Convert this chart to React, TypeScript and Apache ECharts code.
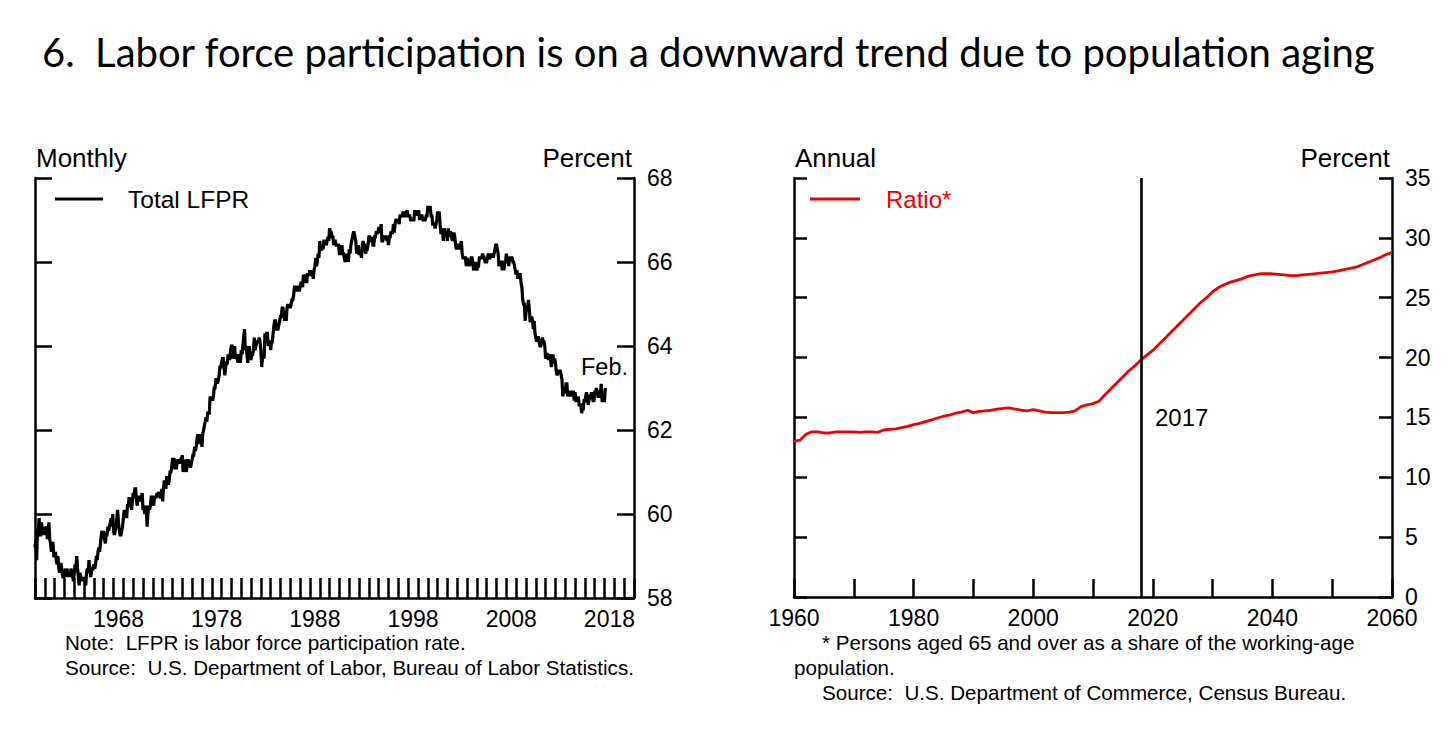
import React, { useEffect, useRef } from 'react';
import * as echarts from 'echarts';

// ---------- Left panel: Total LFPR, monthly, Jan 1960 - Feb 2018 ----------
const lfprStartYear = 1960;
const lfprMonthly: number[] = [
  // 1960
  59.2, 59.4, 58.9, 59.6, 59.6, 59.9, 59.5, 59.5, 59.8, 59.5, 59.7, 59.5,
  // 1961
  59.7, 59.6, 59.7, 59.4, 59.6, 59.8, 59.4, 59.3, 59.1, 59.3, 59.3, 59.0,
  // 1962
  59.0, 59.1, 58.9, 58.8, 59.0, 58.7, 58.6, 58.8, 58.8, 58.6, 58.5, 58.5,
  // 1963
  58.6, 58.7, 58.5, 58.7, 58.6, 58.5, 58.6, 58.5, 58.7, 58.6, 58.5, 58.4,
  // 1964
  58.6, 58.8, 58.7, 59.0, 58.7, 58.5, 58.3, 58.6, 58.5, 58.4, 58.5, 58.4,
  // 1965
  58.5, 58.4, 58.3, 58.6, 58.7, 58.6, 58.9, 58.7, 58.5, 58.6, 58.7, 58.7,
  // 1966
  58.8, 58.7, 58.8, 59.0, 58.9, 59.1, 59.2, 59.1, 59.3, 59.5, 59.6, 59.4,
  // 1967
  59.6, 59.4, 59.3, 59.5, 59.5, 59.7, 59.6, 59.7, 59.8, 59.9, 59.7, 60.0,
  // 1968
  59.6, 59.5, 59.6, 59.7, 59.9, 60.1, 59.8, 59.6, 59.5, 59.5, 59.6, 59.7,
  // 1969
  59.9, 60.1, 59.9, 60.1, 59.9, 60.2, 60.2, 60.4, 60.3, 60.3, 60.1, 60.3,
  // 1970
  60.5, 60.4, 60.6, 60.6, 60.3, 60.2, 60.4, 60.4, 60.3, 60.4, 60.4, 60.5,
  // 1971
  60.1, 60.2, 60.0, 60.2, 60.1, 59.7, 60.0, 60.2, 60.1, 60.2, 60.4, 60.4,
  // 1972
  60.3, 60.2, 60.4, 60.4, 60.4, 60.5, 60.4, 60.5, 60.5, 60.4, 60.4, 60.6,
  // 1973
  60.3, 60.6, 60.8, 60.7, 60.6, 60.9, 60.8, 60.7, 60.8, 61.0, 61.0, 61.1,
  // 1974
  61.3, 61.3, 61.3, 61.1, 61.1, 61.1, 61.3, 61.2, 61.3, 61.2, 61.3, 61.3,
  // 1975
  61.4, 61.0, 61.2, 61.2, 61.3, 61.0, 61.2, 61.3, 61.2, 61.2, 61.1, 61.2,
  // 1976
  61.3, 61.4, 61.4, 61.6, 61.5, 61.6, 61.8, 61.9, 61.7, 61.7, 61.9, 61.8,
  // 1977
  61.6, 61.9, 62.0, 62.1, 62.2, 62.3, 62.2, 62.4, 62.4, 62.4, 62.8, 62.7,
  // 1978
  62.8, 62.7, 62.8, 63.0, 63.0, 63.2, 63.2, 63.1, 63.2, 63.3, 63.5, 63.5,
  // 1979
  63.6, 63.7, 63.7, 63.5, 63.3, 63.5, 63.6, 63.6, 63.8, 63.7, 63.7, 63.9,
  // 1980
  64.0, 64.0, 63.7, 63.8, 64.0, 63.7, 63.8, 63.7, 63.6, 63.7, 63.8, 63.6,
  // 1981
  63.9, 63.8, 64.0, 64.2, 64.4, 63.9, 64.0, 63.8, 63.6, 63.9, 64.0, 63.7,
  // 1982
  63.7, 63.8, 63.8, 63.9, 64.2, 63.9, 64.0, 64.1, 64.1, 64.1, 64.2, 64.1,
  // 1983
  63.9, 63.5, 63.7, 63.8, 63.7, 64.3, 64.1, 64.3, 64.3, 64.0, 64.1, 64.1,
  // 1984
  63.9, 64.1, 64.1, 64.3, 64.5, 64.6, 64.6, 64.4, 64.4, 64.4, 64.5, 64.6,
  // 1985
  64.7, 64.7, 64.9, 64.9, 64.8, 64.6, 64.7, 64.6, 64.9, 65.0, 64.9, 65.0,
  // 1986
  64.9, 65.0, 65.1, 65.1, 65.2, 65.4, 65.4, 65.3, 65.4, 65.4, 65.4, 65.3,
  // 1987
  65.4, 65.5, 65.5, 65.4, 65.7, 65.5, 65.6, 65.7, 65.5, 65.7, 65.7, 65.7,
  // 1988
  65.8, 65.7, 65.7, 65.8, 65.6, 65.8, 65.9, 66.1, 65.9, 66.0, 66.2, 66.1,
  // 1989
  66.5, 66.3, 66.3, 66.4, 66.3, 66.5, 66.5, 66.5, 66.4, 66.5, 66.6, 66.5,
  // 1990
  66.8, 66.7, 66.7, 66.6, 66.6, 66.4, 66.5, 66.5, 66.4, 66.4, 66.4, 66.4,
  // 1991
  66.2, 66.2, 66.3, 66.4, 66.2, 66.2, 66.1, 66.0, 66.2, 66.1, 66.1, 66.0,
  // 1992
  66.3, 66.2, 66.4, 66.5, 66.6, 66.7, 66.7, 66.6, 66.5, 66.2, 66.3, 66.4,
  // 1993
  66.2, 66.2, 66.2, 66.1, 66.4, 66.5, 66.4, 66.4, 66.2, 66.3, 66.3, 66.4,
  // 1994
  66.6, 66.6, 66.5, 66.5, 66.6, 66.4, 66.4, 66.6, 66.6, 66.7, 66.7, 66.7,
  // 1995
  66.8, 66.8, 66.7, 66.9, 66.5, 66.5, 66.6, 66.6, 66.6, 66.6, 66.5, 66.6,
  // 1996
  66.4, 66.6, 66.6, 66.7, 66.7, 66.7, 66.9, 66.7, 66.9, 67.0, 67.0, 67.0,
  // 1997
  67.0, 66.9, 67.1, 67.1, 67.1, 67.1, 67.2, 67.1, 67.1, 67.1, 67.2, 67.2,
  // 1998
  67.1, 67.1, 67.1, 67.0, 67.0, 67.0, 67.0, 67.0, 67.2, 67.2, 67.1, 67.2,
  // 1999
  67.2, 67.2, 67.0, 67.1, 67.1, 67.1, 67.0, 67.0, 67.0, 67.0, 67.1, 67.1,
  // 2000
  67.3, 67.3, 67.3, 67.3, 67.1, 67.1, 66.9, 66.9, 66.9, 66.8, 66.9, 67.0,
  // 2001
  67.2, 67.1, 67.2, 66.9, 66.7, 66.7, 66.8, 66.5, 66.8, 66.7, 66.7, 66.7,
  // 2002
  66.5, 66.8, 66.6, 66.7, 66.7, 66.6, 66.5, 66.6, 66.7, 66.6, 66.4, 66.3,
  // 2003
  66.4, 66.4, 66.3, 66.4, 66.4, 66.5, 66.2, 66.1, 66.1, 66.1, 66.1, 65.9,
  // 2004
  66.1, 66.0, 66.0, 65.9, 66.0, 66.1, 66.1, 66.0, 65.8, 65.9, 66.0, 65.9,
  // 2005
  65.8, 65.9, 65.9, 66.1, 66.1, 66.1, 66.1, 66.2, 66.1, 66.1, 66.0, 66.0,
  // 2006
  66.0, 66.1, 66.2, 66.1, 66.1, 66.2, 66.1, 66.2, 66.1, 66.2, 66.3, 66.4,
  // 2007
  66.4, 66.3, 66.2, 65.9, 66.0, 66.0, 66.0, 65.8, 66.0, 65.8, 66.0, 66.0,
  // 2008
  66.2, 66.0, 66.1, 65.9, 66.1, 66.1, 66.1, 66.1, 66.0, 66.0, 65.9, 65.8,
  // 2009
  65.7, 65.8, 65.6, 65.7, 65.7, 65.7, 65.5, 65.4, 65.1, 65.0, 65.0, 64.6,
  // 2010
  64.8, 64.9, 64.9, 65.1, 64.9, 64.6, 64.6, 64.7, 64.6, 64.4, 64.6, 64.3,
  // 2011
  64.2, 64.1, 64.2, 64.2, 64.1, 64.0, 64.0, 64.1, 64.2, 64.1, 64.1, 64.0,
  // 2012
  63.7, 63.8, 63.8, 63.7, 63.7, 63.8, 63.7, 63.5, 63.6, 63.8, 63.6, 63.7,
  // 2013
  63.6, 63.4, 63.3, 63.4, 63.4, 63.4, 63.4, 63.3, 63.2, 62.8, 63.0, 62.9,
  // 2014
  62.9, 63.1, 63.1, 62.8, 62.9, 62.8, 62.9, 62.9, 62.8, 62.9, 62.9, 62.7,
  // 2015
  62.9, 62.7, 62.7, 62.7, 62.8, 62.6, 62.6, 62.6, 62.4, 62.5, 62.5, 62.7,
  // 2016
  62.7, 62.8, 62.9, 62.8, 62.6, 62.7, 62.8, 62.8, 62.9, 62.8, 62.7, 62.7,
  // 2017
  62.9, 62.9, 63.0, 62.9, 62.8, 62.8, 62.9, 62.9, 63.1, 62.7, 62.7, 62.7,
  // 2018
  62.7, 63.0,
];
const leftAxisFirstYear = 1960;
const leftAxisLastYear = 2020; // last yearly band (ends at 2021)
const leftLabelYears = ['1968', '1978', '1988', '1998', '2008', '2018'];
const leftYMin = 58;
const leftYMax = 68;
const leftYStep = 2;

// ---------- Right panel: old-age ratio, annual 1960 - 2060 ----------
const ratioYears: number[] = [
  1960, 1961, 1962, 1963, 1964, 1965, 1966, 1967, 1968, 1969,
  1970, 1971, 1972, 1973, 1974, 1975, 1976, 1977, 1978, 1979,
  1980, 1981, 1982, 1983, 1984, 1985, 1986, 1987, 1988, 1989,
  1990, 1991, 1992, 1993, 1994, 1995, 1996, 1997, 1998, 1999,
  2000, 2001, 2002, 2003, 2004, 2005, 2006, 2007, 2008, 2009,
  2010, 2011, 2012, 2013, 2014, 2015, 2016, 2017, 2018, 2019,
  2020, 2021, 2022, 2023, 2024, 2025, 2026, 2027, 2028, 2029,
  2030, 2031, 2032, 2033, 2034, 2035, 2036, 2037, 2038, 2039,
  2040, 2041, 2042, 2043, 2044, 2045, 2046, 2047, 2048, 2049,
  2050, 2051, 2052, 2053, 2054, 2055, 2056, 2057, 2058, 2059,
  2060,
];
const ratioValues: number[] = [
  13.0, 13.1, 13.6, 13.8, 13.8, 13.7, 13.7, 13.8, 13.8, 13.8,
  13.8, 13.75, 13.8, 13.8, 13.75, 13.95, 14.0, 14.05, 14.15, 14.25,
  14.4, 14.5, 14.65, 14.8, 14.95, 15.1, 15.2, 15.35, 15.45, 15.6,
  15.4, 15.5, 15.55, 15.6, 15.7, 15.75, 15.8, 15.7, 15.6, 15.55,
  15.65, 15.55, 15.45, 15.4, 15.4, 15.4, 15.45, 15.55, 15.9, 16.05,
  16.15, 16.35, 16.9, 17.4, 17.9, 18.4, 18.9, 19.3, 19.8, 20.2,
  20.6, 21.1, 21.6, 22.1, 22.6, 23.1, 23.6, 24.1, 24.6, 25.0,
  25.5, 25.85, 26.1, 26.3, 26.45, 26.6, 26.8, 26.9, 27.0, 27.0,
  27.0, 26.95, 26.9, 26.85, 26.85, 26.9, 26.95, 27.0, 27.05, 27.1,
  27.15, 27.25, 27.35, 27.45, 27.55, 27.75, 27.95, 28.15, 28.35, 28.6,
  28.8,
];
const markerYear = 2018;
const rightXMin = 1960;
const rightXMax = 2060;
const rightXStep = 10;
const rightLabelYears = [1960, 1980, 2000, 2020, 2040, 2060];
const rightYMin = 0;
const rightYMax = 35;
const rightYStep = 5;

const FONT = '"Liberation Sans", Arial, sans-serif';
const BLACK = '#000';
const RED = '#ee0000';

export default function App() {
  const ref = useRef<HTMLDivElement>(null);

  useEffect(() => {
    if (!ref.current) return;
    const chart = echarts.init(ref.current, undefined, { renderer: 'svg' });

    const yearCats: string[] = [];
    for (let y = leftAxisFirstYear; y <= leftAxisLastYear; y++) yearCats.push(String(y));

    const lfprData = lfprMonthly.map((v, i) => [lfprStartYear + i / 12, v]);
    const ratioData = ratioYears.map((y, i) => [y, ratioValues[i]]);

    const axisLineStyle = { color: BLACK, width: 2.5 };
    const tickStyle = { color: BLACK, width: 2.5 };
    const labelStyle = { color: BLACK, fontSize: 23, fontFamily: FONT };

    const yAxisCommon = (gridIndex: number, min: number, max: number, step: number, position: 'left' | 'right', showLabel: boolean, tickLen: number) => ({
      type: 'value',
      gridIndex,
      min,
      max,
      interval: step,
      position,
      axisLine: { show: true, onZero: false, lineStyle: axisLineStyle },
      axisTick: { show: true, inside: true, length: tickLen, lineStyle: tickStyle },
      axisLabel: { show: showLabel, margin: 13, ...labelStyle },
      splitLine: { show: false },
    });

    const text = (t: string, x: number, y: number, opts: any = {}) => ({
      type: 'text',
      x,
      y,
      style: {
        text: t,
        fill: opts.fill || BLACK,
        font: opts.font || `${opts.size || 23}px ${FONT}`,
        align: opts.align || 'left',
        verticalAlign: 'middle',
      },
    });

    chart.setOption({
      animation: false,
      textStyle: { fontFamily: FONT },
      grid: [
        { left: 35, top: 178, width: 599, height: 420 },
        { left: 794, top: 178, width: 598, height: 419 },
      ],
      xAxis: [
        {
          type: 'category',
          gridIndex: 0,
          data: yearCats,
          boundaryGap: true,
          position: 'bottom',
          axisLine: { show: true, onZero: false, lineStyle: axisLineStyle },
          axisTick: { show: true, inside: true, length: 20, interval: 0, lineStyle: tickStyle },
          axisLabel: {
            interval: (_i: number, v: string) => leftLabelYears.indexOf(v) >= 0,
            margin: 9,
            ...labelStyle,
          },
          splitLine: { show: false },
        },
        {
          type: 'value',
          gridIndex: 0,
          min: leftAxisFirstYear,
          max: leftAxisLastYear + 1,
          show: false,
        },
        {
          type: 'value',
          gridIndex: 1,
          min: rightXMin,
          max: rightXMax,
          interval: rightXStep,
          position: 'bottom',
          axisLine: { show: true, onZero: false, lineStyle: axisLineStyle },
          axisTick: { show: true, inside: true, length: 18, lineStyle: tickStyle },
          axisLabel: {
            margin: 9,
            showMinLabel: true,
            showMaxLabel: true,
            formatter: (v: number) => (rightLabelYears.indexOf(v) >= 0 ? String(v) : ''),
            ...labelStyle,
          },
          splitLine: { show: false },
        },
      ],
      yAxis: [
        yAxisCommon(0, leftYMin, leftYMax, leftYStep, 'right', true, 17),
        yAxisCommon(0, leftYMin, leftYMax, leftYStep, 'left', false, 17),
        yAxisCommon(1, rightYMin, rightYMax, rightYStep, 'right', true, 13),
        yAxisCommon(1, rightYMin, rightYMax, rightYStep, 'left', false, 13),
      ],
      series: [
        {
          name: 'Total LFPR',
          type: 'line',
          xAxisIndex: 1,
          yAxisIndex: 0,
          data: lfprData,
          showSymbol: false,
          symbol: 'none',
          lineStyle: { color: BLACK, width: 3.2, join: 'miter' },
        },
        {
          name: 'Ratio*',
          type: 'line',
          xAxisIndex: 2,
          yAxisIndex: 2,
          data: ratioData,
          showSymbol: false,
          symbol: 'none',
          smooth: false,
          lineStyle: { color: RED, width: 2.8 },
          markLine: {
            silent: true,
            symbol: ['none', 'none'],
            label: { show: false },
            lineStyle: { color: BLACK, width: 2.6, type: 'solid' },
            data: [{ xAxis: markerYear }],
          },
        },
      ],
      graphic: [
        // title
        text('6.  Labor force participation is on a downward trend due to population aging', 42, 52, {
          font: `40px Lato, "Open Sans", sans-serif`,
        }),
        // left panel headers
        text('Monthly', 36, 158, { size: 26 }),
        text('Percent', 632, 158, { size: 26, align: 'right' }),
        // left legend
        {
          type: 'line',
          shape: { x1: 55, y1: 199, x2: 103, y2: 199 },
          style: { stroke: BLACK, lineWidth: 2.8 },
        },
        text('Total LFPR', 128, 199, { size: 24.5 }),
        text('Feb.', 628, 367, { size: 23.5, align: 'right' }),
        // left notes
        text('Note:  LFPR is labor force participation rate.', 65, 642, { size: 20.6 }),
        text('Source:  U.S. Department of Labor, Bureau of Labor Statistics.', 65, 667, { size: 20.6 }),
        // right panel headers
        text('Annual', 795, 158, { size: 26 }),
        text('Percent', 1390, 158, { size: 26, align: 'right' }),
        {
          type: 'line',
          shape: { x1: 810, y1: 199, x2: 860, y2: 199 },
          style: { stroke: RED, lineWidth: 2.8 },
        },
        text('Ratio*', 886, 199, { size: 24, fill: RED }),
        text('2017', 1155, 417, { size: 24 }),
        // right notes
        text('* Persons aged 65 and over as a share of the working-age', 822, 642, { size: 20.6 }),
        text('population.', 794, 667, { size: 20.6 }),
        text('Source:  U.S. Department of Commerce, Census Bureau.', 822, 692, { size: 20.6 }),
      ],
    });

    return () => chart.dispose();
  }, []);

  return (
    <div
      ref={ref}
      style={{ position: 'absolute', left: 0, top: 0, width: 1451, height: 748, background: '#fff' }}
    />
  );
}
